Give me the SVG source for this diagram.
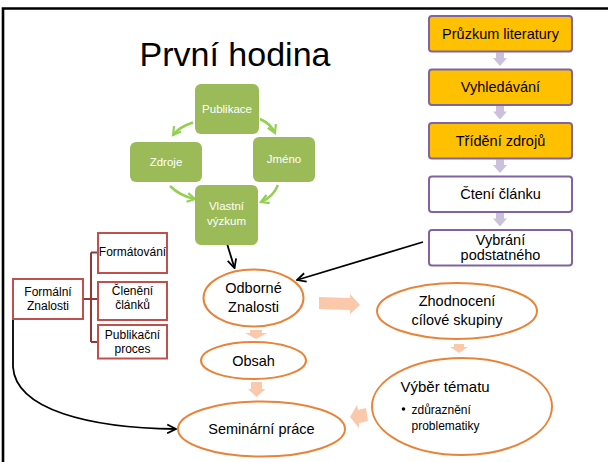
<svg xmlns="http://www.w3.org/2000/svg" width="608" height="462" viewBox="0 0 608 462">
<style>
text{font-family:"Liberation Sans",Arial,sans-serif;fill:#000}
.ob{fill:#FFC000;stroke:#8064A2;stroke-width:2}
.wb{fill:#fff;stroke:#8064A2;stroke-width:2}
.bt{font-size:14.5px;text-anchor:middle}
.gb{fill:#9BBB59}
.gt{font-size:11.5px;fill:#fff;text-anchor:middle}
.rb{fill:#fff;stroke:#C0504D;stroke-width:2}
.rt{font-size:12px;text-anchor:middle}
.el{fill:#fff;stroke:#E8843A;stroke-width:2}
.et{font-size:14.5px;text-anchor:middle}
.pa{fill:#CCC1DA}
.oa{fill:#FAC8AA}
.ga{fill:none;stroke:#92D050;stroke-width:2.5}
.ka{fill:none;stroke:#000;stroke-width:1.8}
</style>
<defs>
<marker id="gh" viewBox="0 0 10 10" refX="8" refY="5" markerWidth="11" markerHeight="11" markerUnits="userSpaceOnUse" orient="auto">
<path d="M1,1 L8,5 L1,9" fill="none" stroke="#92D050" stroke-width="2"/>
</marker>
<marker id="kh" viewBox="0 0 10 10" refX="9" refY="5" markerWidth="11" markerHeight="11" markerUnits="userSpaceOnUse" orient="auto">
<path d="M1,1 L9,5 L1,9" fill="none" stroke="#000" stroke-width="1.6"/>
</marker>
</defs>
<rect width="608" height="462" fill="#fff"/>
<path d="M3,462 V8.5 H608" fill="none" stroke="#000" stroke-width="2.6"/>
<text x="235" y="66" font-size="34" text-anchor="middle">První hodina</text>

<g id="connectors">
<path class="pa" d="M496,52.5 H504 V58 H507 L500,66 L493,58 H496 Z"/>
<path class="pa" d="M496,106 H504 V111.5 H507 L500,119.5 L493,111.5 H496 Z"/>
<path class="pa" d="M496,159.5 H504 V165 H507 L500,173 L493,165 H496 Z"/>
<path class="pa" d="M496,213 H504 V218.5 H507 L500,226.5 L493,218.5 H496 Z"/>
<path class="ga" d="M193,122.5 Q179,127 173,135" marker-end="url(#gh)"/>
<path class="ga" d="M260,119 Q271,124 275,133" marker-end="url(#gh)"/>
<path class="ga" d="M170,186 Q180,196 195,199" marker-end="url(#gh)"/>
<path class="ga" d="M278,185 Q273,197 261,202" marker-end="url(#gh)"/>
<path class="ka" d="M226.5,242 L234.5,268" marker-end="url(#kh)"/>
<path class="ka" d="M423,242 L297,280" marker-end="url(#kh)"/>
<path class="ka" d="M13,297 V367 C16,410 90,428 176,429" marker-end="url(#kh)"/>
<path d="M83,299 H91 M91,252.5 V342 M91,252.5 H98 M91,299 H98 M91,342 H98" fill="none" stroke="#953735" stroke-width="2"/>
<path class="oa" d="M319,297 L350,298 V294 L360,305 L350,314 V310 L319,309 Z"/>
<path class="oa" d="M250,330 H262 V333 H267 L256,339 L245,333 H250 Z"/>
<path class="oa" d="M251,382 H262 V389 H265.5 L256.5,397 L248,389 H251 Z"/>
<path class="oa" d="M454,344 H464 V347 H468 L459,353 L450,347 H454 Z"/>
<path class="oa" d="M350,417 L357,405 L358,410 L366,408 L368,421 L359,423 L359,428 Z"/>
</g>

<g id="n-pruzkum"><rect class="ob" x="429" y="16" width="143" height="35.5" rx="3"/><text class="bt" x="500.5" y="38.5">Průzkum literatury</text></g>
<g id="n-vyhledavani"><rect class="ob" x="429" y="69.5" width="143" height="35.5" rx="3"/><text class="bt" x="500.5" y="92">Vyhledávání</text></g>
<g id="n-trideni"><rect class="ob" x="429" y="123" width="143" height="35.5" rx="3"/><text class="bt" x="500.5" y="145.5">Třídění zdrojů</text></g>
<g id="n-cteni"><rect class="wb" x="429" y="176.5" width="143" height="35.5" rx="3"/><text class="bt" x="500.5" y="199">Čtení článku</text></g>
<g id="n-vybrani"><rect class="wb" x="429" y="230" width="143" height="35.5" rx="3"/><text class="bt" x="500.5" y="245">Vybrání</text><text class="bt" x="500.5" y="259.5">podstatného</text></g>

<g id="n-publikace"><rect class="gb" x="195" y="84" width="64" height="50" rx="6"/><text class="gt" x="227" y="113">Publikace</text></g>
<g id="n-zdroje"><rect class="gb" x="130" y="142" width="72" height="40" rx="6"/><text class="gt" x="166" y="166">Zdroje</text></g>
<g id="n-jmeno"><rect class="gb" x="253" y="137" width="62" height="45" rx="6"/><text class="gt" x="284" y="163">Jméno</text></g>
<g id="n-vlastni"><rect class="gb" x="195" y="185" width="63" height="60" rx="6"/><text class="gt" x="226.5" y="210">Vlastní</text><text class="gt" x="226.5" y="225">výzkum</text></g>

<g id="n-formalni"><rect class="rb" x="13" y="279" width="70" height="40"/><text class="rt" x="48" y="296">Formální</text><text class="rt" x="48" y="310">Znalosti</text></g>
<g id="n-formatovani"><rect class="rb" x="98" y="233" width="69" height="40"/><text class="rt" x="132.5" y="256">Formátování</text></g>
<g id="n-cleneni"><rect class="rb" x="98" y="282" width="69" height="38"/><text class="rt" x="132.5" y="295">Členění</text><text class="rt" x="132.5" y="309">článků</text></g>
<g id="n-publikacni"><rect class="rb" x="98" y="325" width="69" height="33.5"/><text class="rt" x="132.5" y="338.5">Publikační</text><text class="rt" x="132.5" y="353">proces</text></g>

<g id="n-odborne"><ellipse class="el" cx="253.5" cy="298" rx="50" ry="28.5"/><text class="et" x="253.5" y="293">Odborné</text><text class="et" x="253.5" y="312">Znalosti</text></g>
<g id="n-obsah"><ellipse class="el" cx="253.5" cy="360.5" rx="52.5" ry="18.5"/><text class="et" x="253.5" y="365.5">Obsah</text></g>
<g id="n-seminarni"><ellipse class="el" cx="261.5" cy="429" rx="83.5" ry="27.5"/><text class="et" x="261.5" y="434">Seminární práce</text></g>
<g id="n-zhodnoceni"><ellipse class="el" cx="457" cy="311" rx="80" ry="28"/><text class="et" x="457" y="306">Zhodnocení</text><text class="et" x="457" y="325">cílové skupiny</text></g>
<g id="n-vyber"><ellipse class="el" cx="462" cy="406.5" rx="90" ry="48.5"/><text x="400.5" y="391.5" font-size="15">Výběr tématu</text><circle cx="403.5" cy="409" r="1.8" fill="#000"/><text x="411.5" y="413.5" font-size="12">zdůraznění</text><text x="411.5" y="429.5" font-size="12">problematiky</text></g>
</svg>
